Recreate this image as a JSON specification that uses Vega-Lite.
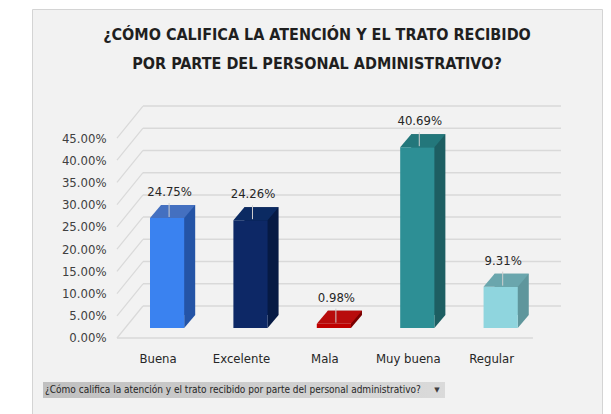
{
  "$schema": "https://vega.github.io/schema/vega-lite/v6.json",
  "width": 570,
  "height": 405,
  "autosize": {"type": "none"},
  "padding": {"left": 32, "top": 9, "right": 9, "bottom": 0},
  "background": "white",
  "config": {
    "view": {"fill": "#f2f2f2", "stroke": "#d4d4d4", "strokeWidth": 1},
    "font": "DejaVu Sans Condensed"
  },
  "title": {
    "text": ["¿CÓMO CALIFICA LA ATENCIÓN Y EL TRATO RECIBIDO", "POR PARTE DEL PERSONAL ADMINISTRATIVO?"],
    "font": "DejaVu Sans Condensed",
    "fontSize": 16,
    "fontWeight": "bold",
    "color": "#1f1f1f",
    "lineHeight": 29,
    "anchor": "middle",
    "frame": "group",
    "offset": -76,
    "baseline": "alphabetic"
  },
  "data": {
    "values": [
      {"respuesta": "Buena", "valor": 0.2475},
      {"respuesta": "Excelente", "valor": 0.2426},
      {"respuesta": "Mala", "valor": 0.0098},
      {"respuesta": "Muy buena", "valor": 0.4069},
      {"respuesta": "Regular", "valor": 0.0931}
    ]
  },
  "encoding": {
    "x": {
      "field": "respuesta",
      "type": "nominal",
      "sort": null,
      "scale": {"type": "band", "domain": ["Buena", "Excelente", "Mala", "Muy buena", "Regular"], "range": [118, 485.77], "paddingInner": 0.59, "paddingOuter": 0, "align": 0, "round": false},
      "axis": {
        "title": null,
        "orient": "bottom",
        "offset": -64,
        "labelPadding": 2,
        "labelOffset": -9,
        "labelAngle": 0,
        "labelFont": "DejaVu Sans Condensed",
        "labelFontSize": 13,
        "labelColor": "#262626",
        "ticks": false,
        "domain": false,
        "grid": false
      }
    },
    "y": {
      "field": "valor",
      "type": "quantitative",
      "scale": {"domain": [-0.19352, 0.71782], "nice": false, "zero": false},
      "axis": {
        "title": null,
        "offset": -78,
        "values": [0, 0.05, 0.1, 0.15, 0.2, 0.25, 0.3, 0.35, 0.4, 0.45],
        "format": ".2%",
        "labelPadding": 4,
        "labelOffset": 10,
        "labelFont": "DejaVu Sans Condensed",
        "labelFontSize": 13,
        "labelColor": "#404040",
        "ticks": false,
        "domain": false,
        "grid": false
      }
    }
  },
  "resolve": {"scale": {"color": "independent"}},
  "layer": [
    {
      "data": {"values": [{"valor": 0}, {"valor": 0.05}, {"valor": 0.1}, {"valor": 0.15}, {"valor": 0.2}, {"valor": 0.25}, {"valor": 0.3}, {"valor": 0.35}, {"valor": 0.4}, {"valor": 0.45}]},
      "mark": {"type": "rule", "color": "#d9d9d9", "strokeWidth": 1.5, "xOffset": -24.1, "x2Offset": 60.3, "yOffset": -22},
      "encoding": {
        "x": {"datum": "Buena"},
        "x2": {"datum": "Regular"}
      }
    },
    {
      "data": {"values": [{"valor": 0}, {"valor": 0.05}, {"valor": 0.1}, {"valor": 0.15}, {"valor": 0.2}, {"valor": 0.25}, {"valor": 0.3}, {"valor": 0.35}, {"valor": 0.4}, {"valor": 0.45}]},
      "mark": {"type": "rule", "color": "#d9d9d9", "strokeWidth": 1.2, "xOffset": -50.1, "x2Offset": -24.1, "yOffset": 10, "y2Offset": -22},
      "encoding": {
        "x": {"datum": "Buena"},
        "x2": {"datum": "Buena"},
        "y2": {"field": "valor"}
      }
    },
    {
      "data": {"values": [{"valor": 0}]},
      "mark": {"type": "rule", "color": "#d9d9d9", "strokeWidth": 1.5, "xOffset": -50.1, "x2Offset": 32.3, "yOffset": 10},
      "encoding": {
        "x": {"datum": "Buena"},
        "x2": {"datum": "Regular"}
      }
    },
    {
      "mark": {"type": "bar", "xOffset": 11, "yOffset": -13, "y2Offset": -13},
      "encoding": {
        "color": {
          "field": "respuesta", "type": "nominal", "legend": null,
          "scale": {"domain": ["Buena", "Excelente", "Mala", "Muy buena", "Regular"], "range": ["#2454a6", "#061a44", "#7a0000", "#1d5e62", "#5f969c"]}
        }
      }
    },
    {
      "mark": {"type": "point", "filled": true, "opacity": 1, "strokeWidth": 0, "size": 4, "shape": "M17.1,0L17.1,-13L28.1,-13Z"},
      "encoding": {
        "y": {"datum": 0},
        "color": {
          "field": "respuesta", "type": "nominal", "legend": null,
          "scale": {"domain": ["Buena", "Excelente", "Mala", "Muy buena", "Regular"], "range": ["#2454a6", "#061a44", "#7a0000", "#1d5e62", "#5f969c"]}
        }
      }
    },
    {
      "mark": {"type": "bar"},
      "encoding": {
        "color": {
          "field": "respuesta", "type": "nominal", "legend": null,
          "scale": {"domain": ["Buena", "Excelente", "Mala", "Muy buena", "Regular"], "range": ["#3a82f0", "#0d2866", "#c00000", "#2d8f95", "#8fd5de"]}
        }
      }
    },
    {
      "mark": {"type": "point", "filled": true, "opacity": 1, "strokeWidth": 0, "size": 4, "shape": "M-17.1,0L17.1,0L28.1,-13L-6.1,-13Z"},
      "encoding": {
        "color": {
          "field": "respuesta", "type": "nominal", "legend": null,
          "scale": {"domain": ["Buena", "Excelente", "Mala", "Muy buena", "Regular"], "range": ["#4470c0", "#0b2a62", "#b80c0c", "#23777b", "#6aa6ad"]}
        }
      }
    },
    {
      "mark": {"type": "rule", "color": "#cfcfcf", "strokeWidth": 1, "xOffset": 2, "yOffset": -1, "y2Offset": -15},
      "encoding": {
        "y2": {"field": "valor"}
      }
    },
    {
      "mark": {"type": "text", "dx": 2.5, "dy": -26, "font": "DejaVu Sans Condensed", "fontSize": 13, "color": "#262626"},
      "encoding": {
        "text": {"field": "valor", "type": "quantitative", "format": ".2%"}
      }
    },
    {
      "data": {"values": [{"etiqueta": "¿Cómo califica la atención y el trato recibido por parte del personal administrativo?", "valor": 0}]},
      "mark": {
        "type": "rect",
        "xOffset": -124.1,
        "x2Offset": 277.9,
        "yOffset": 54,
        "y2Offset": 70,
        "fill": {"x1": 0, "y1": 0, "x2": 1, "y2": 0, "gradient": "linear", "stops": [{"offset": 0, "color": "#c0c0c0"}, {"offset": 1, "color": "#dadada"}]}
      },
      "encoding": {
        "x": {"datum": "Buena"},
        "x2": {"datum": "Buena"},
        "y2": {"field": "valor"}
      }
    },
    {
      "data": {"values": [{"etiqueta": "¿Cómo califica la atención y el trato recibido por parte del personal administrativo?", "valor": 0}]},
      "mark": {"type": "text", "align": "left", "baseline": "middle", "xOffset": -122.1, "yOffset": 62, "font": "DejaVu Sans Condensed", "fontSize": 10, "color": "#262626"},
      "encoding": {
        "x": {"datum": "Buena"},
        "text": {"field": "etiqueta"}
      }
    },
    {
      "data": {"values": [{"etiqueta": "▼", "valor": 0}]},
      "mark": {"type": "text", "align": "center", "baseline": "middle", "xOffset": 269.9, "yOffset": 62, "font": "DejaVu Sans", "fontSize": 7, "color": "#404040"},
      "encoding": {
        "x": {"datum": "Buena"},
        "text": {"field": "etiqueta"}
      }
    }
  ]
}
